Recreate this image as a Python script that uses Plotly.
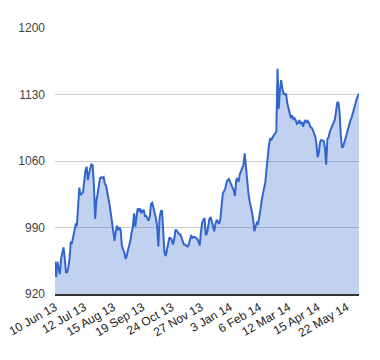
import plotly.graph_objects as go

# Trading-day values (index 0 = 10 Jun 13)
values = [
    954, 938, 954, 946, 941, 957, 965, 969, 958, 943,
    943, 948, 958, 975, 974, 980, 989, 993, 992, 1017,
    1032, 1024, 1025, 1027, 1038, 1050, 1054, 1040, 1047, 1054,
    1057, 1055, 1035, 999, 1018, 1025, 1035, 1042, 1043, 1042,
    1043, 1036, 1034, 1024, 1020, 1013, 1004, 999, 988, 976,
    986, 992, 987, 990, 987, 971, 967, 964, 957, 960,
    966, 970, 976, 985, 990, 1005, 991, 1001, 1010, 1007,
    1010, 1005, 1008, 1008, 1002, 1002, 1000, 997, 1002, 1015,
    1016, 1011, 1007, 1000, 991, 970, 1000, 1007, 1008, 981,
    964, 960, 966, 975, 979, 979, 977, 972, 977, 987,
    987, 985, 983, 983, 980, 976, 972, 972, 971, 970,
    972, 978, 982, 979, 980, 980, 979, 978, 975, 971,
    985, 995, 998, 1000, 982, 984, 991, 999, 1001, 995,
    989, 986, 994, 998, 996, 994, 999, 1017, 1026, 1028,
    1031, 1037, 1040, 1041, 1038, 1035, 1033, 1029, 1023, 1040,
    1042, 1038, 1046, 1049, 1051, 1056, 1068, 1052, 1036, 1027,
    1018, 1013, 1006, 998, 986, 991, 995, 994, 1000, 1009,
    1019, 1027, 1030, 1038, 1052, 1066, 1077, 1084, 1082, 1085,
    1087, 1089, 1091, 1157, 1115, 1135, 1145, 1136, 1131, 1130,
    1131, 1121, 1115, 1110, 1105, 1108, 1104, 1105, 1103, 1099,
    1100, 1103, 1099, 1101, 1096, 1101, 1103, 1100, 1102, 1100,
    1096, 1095, 1093, 1089, 1086, 1078, 1064, 1069, 1080, 1082,
    1081, 1081, 1074, 1056, 1083, 1085, 1091, 1095, 1097, 1100,
    1103, 1111, 1121, 1122, 1112, 1088, 1074, 1075, 1080, 1086,
    1090, 1094, 1100, 1103, 1106, 1110, 1115, 1120, 1125, 1128,
    1131,
]
days = list(range(len(values)))

tick_labels = ["10 Jun 13", "12 Jul 13", "15 Aug 13", "19 Sep 13", "24 Oct 13",
               "27 Nov 13", "3 Jan 14", "6 Feb 14", "12 Mar 14", "15 Apr 14", "22 May 14"]
tick_days = [0, 24, 48, 72, 96, 120, 144, 168, 192, 216, 240]
y_ticks = [920, 990, 1060, 1130, 1200]

fig = go.Figure()
fig.add_trace(go.Scatter(
    x=days, y=values, mode="lines",
    line=dict(color="#3366cc", width=2),
    fill="tozeroy", fillcolor="rgba(51,102,204,0.3)",
    hoverinfo="skip",
))

fig.update_layout(
    width=372, height=352,
    margin=dict(l=47, r=21, t=20, b=66),
    paper_bgcolor="white", plot_bgcolor="white",
    showlegend=False,
    font=dict(family="Arial, Liberation Sans, sans-serif", size=12, color="#222"),
)
fig.update_xaxes(
    range=[0, len(values) - 1], automargin=False,
    tickmode="array", tickvals=tick_days, ticktext=tick_labels,
    tickangle=-30, showgrid=False, zeroline=False, ticklabeloverflow="allow",
    showline=True, linecolor="#333", linewidth=1.5,
    ticks="", tickfont=dict(color="#222", size=12),
)
fig.update_yaxes(
    range=[920, 1200], tickmode="array", tickvals=y_ticks, automargin=False,
    showgrid=True, gridcolor="#cccccc", gridwidth=1, zeroline=False,
    ticks="", ticklabelstandoff=9, tickfont=dict(color="#444", size=12),
)

fig.write_html("out.html")
